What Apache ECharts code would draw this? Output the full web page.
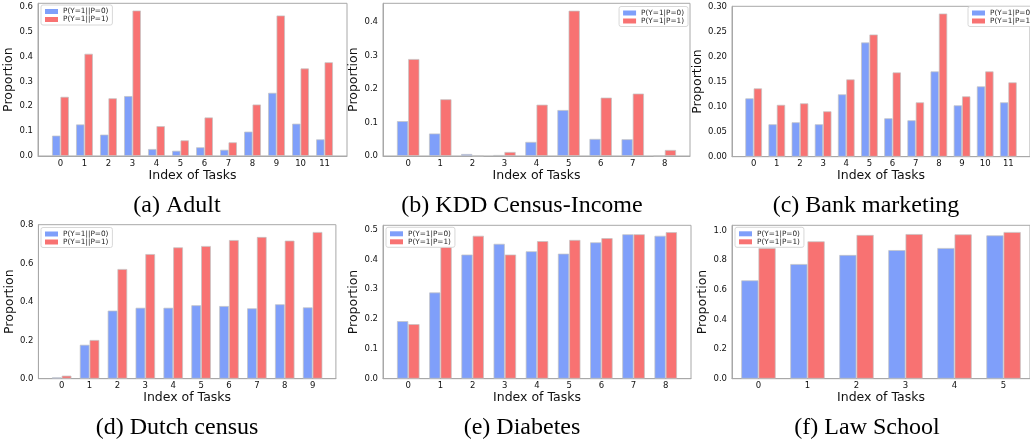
<!DOCTYPE html>
<html><head><meta charset="utf-8">
<script src="https://cdn.jsdelivr.net/npm/echarts@6/dist/echarts.min.js"></script>
<style>html,body{margin:0;padding:0;background:#fff}#c{width:1030px;height:442px}</style>
</head><body><div id="c"></div>
<script>
// ---------------- DATA ----------------
const adultTasks = [0,1,2,3,4,5,6,7,8,9,10,11];
const adultP0 = [0.082,0.127,0.086,0.241,0.028,0.021,0.035,0.025,0.098,0.254,0.130,0.067];
const adultP1 = [0.238,0.411,0.232,0.585,0.120,0.063,0.155,0.055,0.207,0.565,0.352,0.377];
const adultYTicks = [0.0,0.1,0.2,0.3,0.4,0.5,0.6];

const kddTasks = [0,1,2,3,4,5,6,7,8];
const kddP0 = [0.104,0.067,0.006,0.003,0.042,0.137,0.051,0.050,0];
const kddP1 = [0.289,0.169,0,0.012,0.153,0.433,0.174,0.186,0.018];
const kddYTicks = [0.0,0.1,0.2,0.3,0.4];

const bankTasks = [0,1,2,3,4,5,6,7,8,9,10,11];
const bankP0 = [0.117,0.065,0.069,0.065,0.125,0.229,0.077,0.073,0.171,0.103,0.141,0.109];
const bankP1 = [0.137,0.104,0.107,0.091,0.155,0.245,0.169,0.109,0.287,0.121,0.171,0.149];
const bankYTicks = [0.00,0.05,0.10,0.15,0.20,0.25,0.30];

const dutchTasks = [0,1,2,3,4,5,6,7,8,9];
const dutchP0 = [0.007,0.177,0.355,0.370,0.370,0.383,0.379,0.367,0.388,0.372];
const dutchP1 = [0.016,0.202,0.572,0.650,0.685,0.692,0.723,0.739,0.720,0.765];
const dutchYTicks = [0.0,0.2,0.4,0.6,0.8];

const diabTasks = [0,1,2,3,4,5,6,7,8];
const diabP0 = [0.193,0.289,0.416,0.452,0.427,0.419,0.457,0.484,0.479];
const diabP1 = [0.183,0.447,0.479,0.416,0.461,0.465,0.471,0.484,0.491];
const diabYTicks = [0.0,0.1,0.2,0.3,0.4,0.5];

const lawTasks = [0,1,2,3,4,5];
const lawP0 = [0.663,0.773,0.834,0.867,0.881,0.966];
const lawP1 = [0.880,0.926,0.969,0.975,0.973,0.989];
const lawYTicks = [0.0,0.2,0.4,0.6,0.8,1.0];

const captions = ['(a) Adult','(b) KDD Census-Income','(c) Bank marketing','(d) Dutch census','(e) Diabetes','(f) Law School'];
const namesDouble = ['P(Y=1||P=0)','P(Y=1||P=1)'];
const namesSingle = ['P(Y=1|P=0)','P(Y=1|P=1)'];

// ---------------- LAYOUT ----------------
const panels = [
  {tasks:adultTasks,p0:adultP0,p1:adultP1,ticks:adultYTicks,dec:1,ymax:0.614,names:namesDouble,
   grid:{left:38,top:3.3,width:309,height:152.7},xm:0.585,legend:{left:41,top:5},cap:[177,206]},
  {tasks:kddTasks,p0:kddP0,p1:kddP1,ticks:kddYTicks,dec:1,ymax:0.455,names:namesSingle,
   grid:{left:383,top:3.3,width:307,height:152.7},xm:0.435,legend:{right:342,top:6.5},cap:[522,206]},
  {tasks:bankTasks,p0:bankP0,p1:bankP1,ticks:bankYTicks,dec:2,ymax:0.3015,names:namesSingle,
   grid:{left:732,top:6.3,width:307,height:150.4},xm:0.585,legend:{left:968,top:6.5},cap:[866,206]},
  {tasks:dutchTasks,p0:dutchP0,p1:dutchP1,ticks:dutchYTicks,dec:1,ymax:0.803,names:namesDouble,
   grid:{left:38.4,top:224.7,width:297.5,height:154},xm:0.485,legend:{left:41,top:227.5},cap:[177,427.5]},
  {tasks:diabTasks,p0:diabP0,p1:diabP1,ticks:diabYTicks,dec:1,ymax:0.514,names:namesSingle,
   grid:{left:383,top:225.3,width:308,height:153.4},xm:0.435,legend:{left:386,top:227.3},cap:[522,427.5]},
  {tasks:lawTasks,p0:lawP0,p1:lawP1,ticks:lawYTicks,dec:1,ymax:1.034,names:namesSingle,
   grid:{left:732,top:225.3,width:299,height:153.4},xm:0.19,legend:{left:735,top:227.3},cap:[867,427.5]}
];

const BLUE = '#7f9ffa', RED = '#f87272';
const AXC = '#a8a8a8';
const FONT = 'DejaVu Sans';

const grids = [], xAxes = [], yAxes = [], series = [], legends = [], graphics = [];
panels.forEach((p, i) => {
  const n = p.tasks.length;
  const xmin = -0.35 - p.xm, xmax = (n - 1) + 0.35 + p.xm;
  const unit = p.grid.width / (xmax - xmin);
  grids.push(Object.assign({show:true, borderColor:AXC, borderWidth:1, backgroundColor:'#fff'}, p.grid));
  xAxes.push({
    type:'value', gridIndex:i, min:xmin, max:xmax,
    name:'Index of Tasks', nameLocation:'middle', nameGap:12,
    nameTextStyle:{fontFamily:FONT, fontSize:12.5, color:'#111'},
    axisLine:{show:true, onZero:false, lineStyle:{color:AXC, width:1}},
    axisTick:{show:false},
    splitLine:{show:false},
    axisLabel:{customValues:p.tasks, fontFamily:FONT, fontSize:8.5, color:'#111', margin:3,
      formatter:v => String(Math.round(v))}
  });
  yAxes.push({
    type:'value', gridIndex:i, min:0, max:p.ymax,
    name:'Proportion', nameLocation:'middle', nameGap:19,
    nameTextStyle:{fontFamily:FONT, fontSize:12.5, color:'#111'},
    axisLine:{show:true, onZero:false, lineStyle:{color:AXC, width:1}},
    axisTick:{show:false},
    splitLine:{show:false},
    axisLabel:{customValues:p.ticks, fontFamily:FONT, fontSize:8.5, color:'#111', margin:5,
      formatter:v => v.toFixed(p.dec)}
  });
  const bw = 0.35 * unit;
  [p.p0, p.p1].forEach((vals, k) => {
    series.push({
      type:'bar', name:p.names[k], xAxisIndex:i, yAxisIndex:i,
      barWidth:bw, barGap:'0%',
      itemStyle:{color:k===0?BLUE:RED, borderColor:'rgba(195,195,195,0.9)', borderWidth:0.8},
      data:vals.map((v, j) => [p.tasks[j], v]),
      silent:true, animation:false
    });
  });
  legends.push(Object.assign({
    orient:'vertical', data:p.names, selectedMode:false, icon:'rect',
    itemWidth:13, itemHeight:5, itemGap:1, padding:[3,4,2,4],
    backgroundColor:'#fff', borderColor:'#d8d8d8', borderWidth:1, borderRadius:2,
    itemStyle:{borderWidth:0},
    textStyle:{fontFamily:FONT, fontSize:7.3, color:'#222'}
  }, p.legend));
  graphics.push({
    type:'text', x:p.cap[0], y:p.cap[1],
    style:{text:captions[i], fontFamily:'Liberation Serif', fontSize:24, fill:'#000', align:'center', verticalAlign:'middle'}
  });
});

const chart = echarts.init(document.getElementById('c'), null, {renderer:'canvas'});
chart.setOption({
  animation:false,
  grid:grids, xAxis:xAxes, yAxis:yAxes, series:series, legend:legends, graphic:graphics
});
</script>
</body></html>
